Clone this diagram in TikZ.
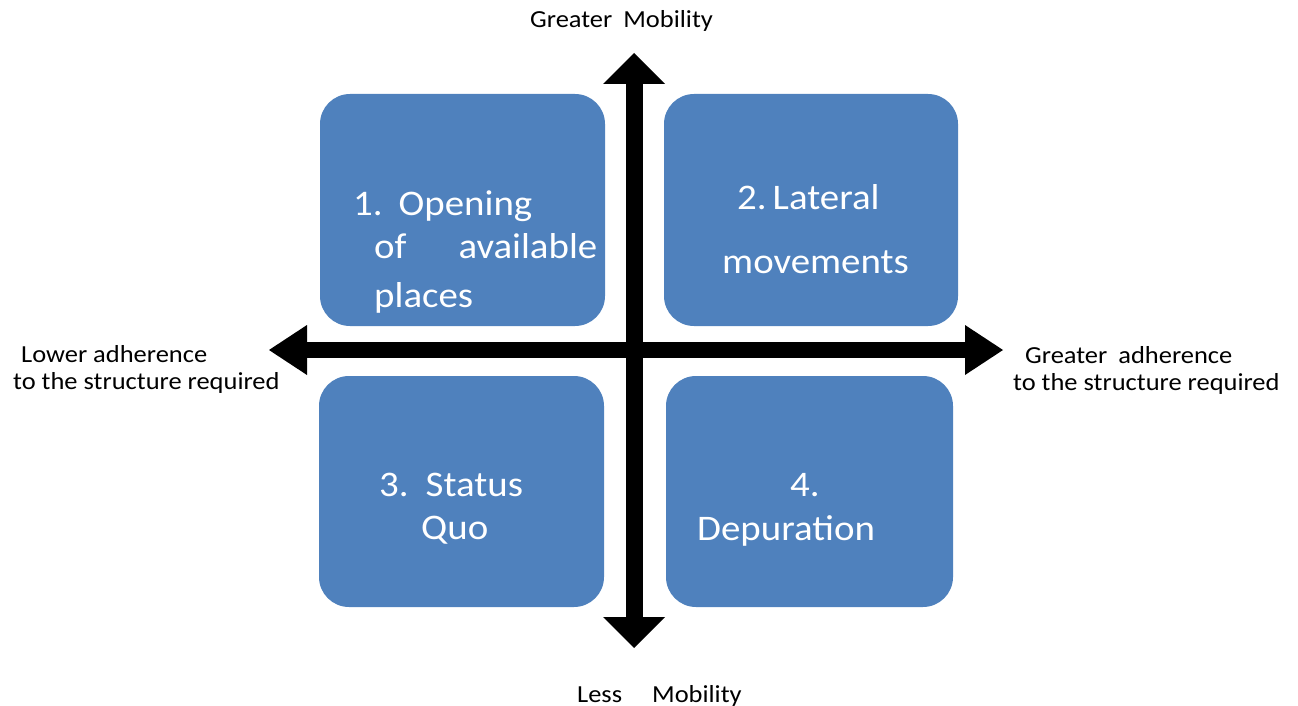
\documentclass[tikz,border=0pt]{standalone}
\usepackage{fontspec}
\setmainfont{Carlito}[FakeStretch=1.08]
\definecolor{quadblue}{RGB}{79,129,189}
\usetikzlibrary{positioning,arrows.meta}

\begin{document}
\begin{tikzpicture}[x=1pt,y=-1pt,
    quad/.style={fill=quadblue,draw=none,rounded corners=30pt,minimum height=232pt,inner sep=0pt},
    qtext/.style={anchor=base west,inner sep=0pt,text=white,font=\fontsize{36}{43}\selectfont},
    ltext/.style={anchor=base west,inner sep=0pt,font=\fontsize{24.5}{29}\selectfont}]
    \useasboundingbox (0,0) rectangle (1298,706);

    % the four quadrants
    \node[quad,minimum width=285pt] (q1) at (462.5,210) {};
    \node[quad,minimum width=294pt] (q2) at (811,210) {};
    \node[quad,minimum width=285pt,minimum height=231pt] (q3) at (461.5,491.5) {};
    \node[quad,minimum width=287pt,minimum height=231pt] (q4) at (809.5,491.5) {};

    \node[qtext] (q1a) at (353,215) {1.\hspace{16pt}Opening};
    \node[qtext] (q1b) at (374,258) {of\hspace{52pt}available};
    \node[qtext] (q1c) at (374,307) {places};
    \node[qtext] (q2a) at (737,209) {2.\hspace{6pt}Lateral};
    \node[qtext] (q2b) at (722,273) {movements};
    \node[qtext] (q3a) at (379,496) {3.\hspace{17pt}Status};
    \node[qtext] (q3b) at (421,539) {Quo};
    \node[qtext] (q4a) at (790,496) {4.};
    \node[qtext] (q4b) at (697,540) {Depuration};

    % axes
    \coordinate (top) at (634,53);
    \coordinate (bottom) at (634,648);
    \coordinate (left) at (269,350);
    \coordinate (right) at (1003,350);
    \draw[line width=17pt,>={Triangle[width=62pt,length=31pt,line width=0pt]},<->] (bottom) -- (top);
    \draw[line width=16pt,>={Triangle[width=50pt,length=38pt,line width=0pt]},<->] (left) -- (right);

    % axis labels
    \node[ltext] (up) at (530,28) {Greater\hspace{11pt}Mobility};
    \node[ltext] (down) at (577,702) {Less\hspace{30pt}Mobility};
    \node[ltext] (lo1) at (21,362) {Lower adherence};
    \node[ltext] (lo2) at (13,389) {to the structure required};
    \node[ltext] (hi1) at (1025,363) {Greater\hspace{11pt}adherence};
    \node[ltext] (hi2) at (1013,390) {to the structure required};
\end{tikzpicture}
\end{document}
